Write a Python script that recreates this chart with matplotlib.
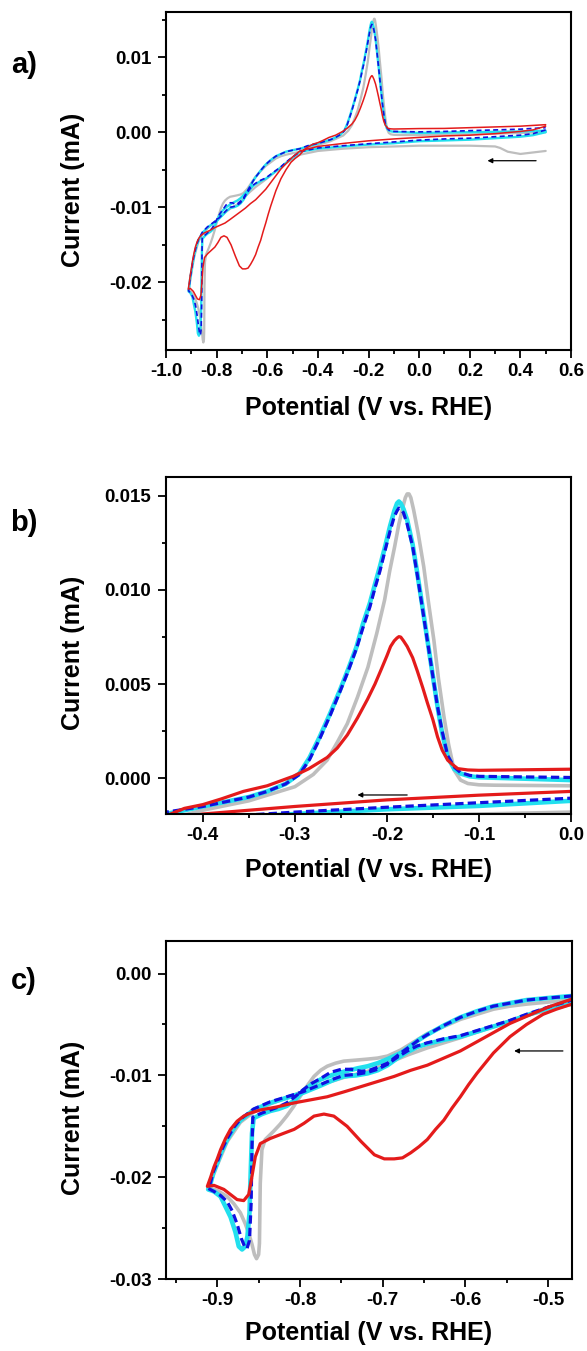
import matplotlib
matplotlib.use("Agg")
import matplotlib.pyplot as plt
from matplotlib.ticker import MultipleLocator, FormatStrFormatter

plt.rcParams['font.family'] = ['Liberation Sans', 'DejaVu Sans']
plt.rcParams['font.weight'] = 'bold'
plt.rcParams['axes.unicode_minus'] = False

# ---- data (potential V vs RHE, current mA) ----
# red curve
red_cath_v = [0.5, 0.45, 0.4, 0.3, 0.2, 0.1, 0.0, -0.1, -0.2, -0.3, -0.4, -0.471, -0.5, -0.526,
              -0.546, -0.566, -0.586, -0.606, -0.626, -0.646, -0.666, -0.686, -0.706, -0.726,
              -0.746, -0.767, -0.787, -0.807, -0.828, -0.848, -0.86, -0.868, -0.876, -0.884,
              -0.89, -0.896, -0.9, -0.904, -0.908, -0.912]
red_cath_i = [0.0008, 0.0003, 0.0001, -0.0002, -0.0004, -0.0005, -0.0007, -0.0009, -0.00115,
              -0.0015, -0.0019, -0.0025, -0.0033, -0.0042, -0.0049, -0.0058, -0.0067, -0.0076,
              -0.0083, -0.0090, -0.0095, -0.0101, -0.0106, -0.0111, -0.0116, -0.0121, -0.0124,
              -0.0127, -0.0131, -0.0134, -0.0137, -0.0140, -0.0145, -0.0153, -0.0162, -0.0173,
              -0.0182, -0.0190, -0.0200, -0.0209]
red_anod_v = [-0.912, -0.904, -0.892, -0.884, -0.876, -0.868, -0.862, -0.858, -0.854, -0.848,
              -0.836, -0.82, -0.807, -0.795, -0.783, -0.771, -0.759, -0.743, -0.726, -0.71,
              -0.698, -0.686, -0.676, -0.666, -0.656, -0.646, -0.636, -0.626, -0.616, -0.606,
              -0.596, -0.586, -0.576, -0.566, -0.556, -0.546, -0.536, -0.526, -0.516, -0.506,
              -0.49, -0.471, -0.45, -0.42, -0.4, -0.38, -0.356, -0.33, -0.302, -0.285, -0.265,
              -0.254, -0.243, -0.232, -0.221, -0.213, -0.206, -0.2, -0.196, -0.192, -0.189,
              -0.187, -0.185, -0.182, -0.178, -0.172, -0.167, -0.161, -0.156, -0.15, -0.145,
              -0.14, -0.134, -0.128, -0.123, -0.112, -0.1, 0.0, 0.1, 0.2, 0.3, 0.4, 0.45, 0.5]
red_anod_i = [-0.0209, -0.0208, -0.0212, -0.0217, -0.0222, -0.0223, -0.0217, -0.0199, -0.0180,
              -0.0167, -0.0162, -0.0157, -0.0153, -0.0147, -0.0140, -0.0138, -0.0140, -0.0150,
              -0.0165, -0.0178, -0.0182, -0.0182, -0.0181, -0.0176, -0.0170, -0.0163, -0.0153,
              -0.0144, -0.0132, -0.0121, -0.0109, -0.0098, -0.0088, -0.0078, -0.0070, -0.0062,
              -0.0056, -0.0050, -0.0045, -0.0040, -0.0035, -0.0030, -0.0022, -0.0016, -0.0014,
              -0.0011, -0.0007, -0.0004, 0.0001, 0.0005, 0.0011, 0.0016, 0.0023, 0.0032,
              0.0042, 0.0050, 0.0058, 0.0065, 0.0070, 0.0073, 0.00745, 0.00752, 0.0075, 0.0073,
              0.0070, 0.0064, 0.0057, 0.0048, 0.0040, 0.0031, 0.0022, 0.0015, 0.00096, 0.0007,
              0.00051, 0.00044, 0.00042, 0.00048, 0.0005, 0.0006, 0.0007, 0.0008, 0.0009, 0.001]

# cyan curve
cyan_cath_v = [0.5, 0.45, 0.4, 0.3, 0.2, 0.1, 0.0, -0.1, -0.2, -0.3, -0.4, -0.471, -0.5, -0.526,
               -0.546, -0.566, -0.586, -0.606, -0.626, -0.646, -0.658, -0.67, -0.682, -0.694,
               -0.706, -0.718, -0.732, -0.747, -0.761, -0.775, -0.796, -0.816, -0.836, -0.856,
               -0.872, -0.88, -0.888, -0.895, -0.9, -0.905, -0.908, -0.911]
cyan_cath_i = [0.0, -0.0004, -0.0006, -0.0008, -0.001, -0.0011, -0.0012, -0.00147, -0.00165,
               -0.0019, -0.0022, -0.0026, -0.0034, -0.0041, -0.0047, -0.0052, -0.0057, -0.0062,
               -0.0065, -0.0069, -0.0072, -0.0077, -0.0083, -0.0090, -0.0095, -0.0098, -0.0100,
               -0.0101, -0.0105, -0.0110, -0.0117, -0.0122, -0.0127, -0.0134, -0.0144, -0.0152,
               -0.0163, -0.0175, -0.0186, -0.0196, -0.0206, -0.0212]
cyan_anod_v = [-0.911, -0.904, -0.896, -0.89, -0.884, -0.878, -0.874, -0.87, -0.866, -0.8635,
               -0.861, -0.86, -0.858, -0.856, -0.846, -0.836, -0.826, -0.816, -0.806, -0.796,
               -0.786, -0.775, -0.759, -0.745, -0.73, -0.718, -0.706, -0.694, -0.686, -0.678,
               -0.666, -0.656, -0.646, -0.626, -0.606, -0.586, -0.566, -0.546, -0.526, -0.5,
               -0.471, -0.44, -0.4, -0.37, -0.35, -0.33, -0.31, -0.295, -0.284, -0.273, -0.262,
               -0.251, -0.242, -0.233, -0.226, -0.2185, -0.213, -0.2076, -0.202, -0.1967,
               -0.192, -0.189, -0.187, -0.185, -0.182, -0.178, -0.172, -0.167, -0.162, -0.156,
               -0.15, -0.145, -0.14, -0.134, -0.127, -0.12, -0.11, -0.1, 0.0, 0.1, 0.2, 0.3,
               0.4, 0.45, 0.5]
cyan_anod_i = [-0.0212, -0.0214, -0.0219, -0.0229, -0.0239, -0.0254, -0.0268, -0.0271, -0.0268,
               -0.0258, -0.0235, -0.0206, -0.0157, -0.0142, -0.0138, -0.0135, -0.0133, -0.0130,
               -0.0124, -0.0115, -0.0109, -0.0104, -0.0099, -0.0096, -0.0093, -0.0091, -0.0088,
               -0.0084, -0.0081, -0.0078, -0.0071, -0.0065, -0.0060, -0.0051, -0.0043, -0.0037,
               -0.0032, -0.0029, -0.0026, -0.0024, -0.0022, -0.0019, -0.0015, -0.0012, -0.0010,
               -0.0007, -0.0003, 0.00025, 0.0011, 0.0022, 0.0034, 0.00468, 0.0058, 0.00698,
               0.0082, 0.0093, 0.0103, 0.01124, 0.0123, 0.01337, 0.0142, 0.0146, 0.0147, 0.0146,
               0.0143, 0.01372, 0.0124, 0.01089, 0.0093, 0.00734, 0.0054, 0.0038, 0.0024,
               0.00113, 0.0005, 0.00025, 0.0001, 0.00005, -0.0001, -0.00005, 0.0, 0.00005,
               0.0001, 0.00015, 0.0002]

# blue dashed curve
blue_cath_v = [0.5, 0.45, 0.4, 0.3, 0.2, 0.1, 0.0, -0.1, -0.2, -0.3, -0.4, -0.471, -0.5, -0.526,
               -0.546, -0.566, -0.586, -0.606, -0.626, -0.646, -0.658, -0.67, -0.682, -0.694,
               -0.706, -0.718, -0.732, -0.747, -0.761, -0.775, -0.796, -0.816, -0.836, -0.856,
               -0.872, -0.88, -0.888, -0.895, -0.9, -0.905, -0.908, -0.911]
blue_cath_i = [0.0003, -0.0002, -0.0004, -0.0006, -0.0008, -0.0009, -0.00106, -0.0013, -0.00154,
               -0.0018, -0.0021, -0.0026, -0.0033, -0.0040, -0.0046, -0.0051, -0.0056, -0.0061,
               -0.0064, -0.0068, -0.0071, -0.0076, -0.0082, -0.0089, -0.0094, -0.0097, -0.0099,
               -0.0100, -0.0104, -0.0109, -0.0116, -0.0121, -0.0126, -0.0133, -0.0143, -0.0151,
               -0.0162, -0.0174, -0.0185, -0.0195, -0.0205, -0.0211]
blue_anod_v = [-0.911, -0.904, -0.896, -0.888, -0.882, -0.876, -0.871, -0.867, -0.864, -0.861,
               -0.859, -0.858, -0.857, -0.852, -0.846, -0.836, -0.826, -0.816, -0.806, -0.796,
               -0.786, -0.775, -0.763, -0.75, -0.738, -0.726, -0.716, -0.706, -0.694, -0.686,
               -0.678, -0.666, -0.656, -0.646, -0.626, -0.606, -0.586, -0.566, -0.546, -0.526,
               -0.5, -0.471, -0.44, -0.4, -0.37, -0.35, -0.33, -0.31, -0.295, -0.284, -0.273,
               -0.262, -0.251, -0.242, -0.233, -0.226, -0.2185, -0.213, -0.2076, -0.202,
               -0.1967, -0.192, -0.189, -0.187, -0.185, -0.182, -0.178, -0.172, -0.167, -0.162,
               -0.156, -0.15, -0.145, -0.14, -0.134, -0.127, -0.12, -0.11, -0.1, 0.0, 0.1, 0.2,
               0.3, 0.4, 0.45, 0.5]
blue_anod_i = [-0.0211, -0.0214, -0.0218, -0.0224, -0.0233, -0.0246, -0.0260, -0.0268, -0.0270,
               -0.0262, -0.0225, -0.0170, -0.0141, -0.0139, -0.0137, -0.0134, -0.0131, -0.0127,
               -0.0121, -0.0114, -0.0108, -0.0103, -0.0097, -0.0094, -0.0094, -0.0096, -0.0095,
               -0.0092, -0.0088, -0.0083, -0.0078, -0.0071, -0.0065, -0.0060, -0.0051, -0.0043,
               -0.0037, -0.0032, -0.0029, -0.0026, -0.0024, -0.0022, -0.0018, -0.0015, -0.0012,
               -0.0010, -0.0007, -0.0003, 0.0002, 0.0010, 0.0021, 0.0033, 0.0046, 0.0057,
               0.0069, 0.0080, 0.0091, 0.0101, 0.0110, 0.0121, 0.0131, 0.0139, 0.0142, 0.01435,
               0.0143, 0.0141, 0.0135, 0.0123, 0.0108, 0.0092, 0.0073, 0.0054, 0.0038, 0.0025,
               0.0012, 0.0006, 0.0003, 0.00015, 0.0001, 0.00004, 0.0001, 0.0002, 0.0003, 0.0004,
               0.0005, 0.0006]

# gray curve
gray_cath_v = [0.5, 0.45, 0.4, 0.35, 0.32, 0.3, 0.2, 0.1, 0.0, -0.1, -0.2, -0.3, -0.4, -0.471,
               -0.526, -0.566, -0.606, -0.646, -0.67, -0.694, -0.718, -0.747, -0.775, -0.796,
               -0.816, -0.836, -0.856, -0.872, -0.888, -0.9, -0.908, -0.911]
gray_cath_i = [-0.0025, -0.0027, -0.0029, -0.0026, -0.0021, -0.0019, -0.0018, -0.0018, -0.0018,
               -0.0019, -0.0020, -0.0022, -0.0025, -0.0030, -0.0041, -0.0052, -0.0063, -0.0073,
               -0.0080, -0.0088, -0.0096, -0.0102, -0.0109, -0.0116, -0.0122, -0.0128, -0.0136,
               -0.0146, -0.0165, -0.0188, -0.0205, -0.0210]
gray_anod_v = [-0.911, -0.9, -0.888, -0.88, -0.872, -0.866, -0.862, -0.858, -0.855, -0.8525,
               -0.85, -0.849, -0.848, -0.846, -0.842, -0.832, -0.824, -0.816, -0.808, -0.8,
               -0.792, -0.783, -0.775, -0.767, -0.757, -0.747, -0.732, -0.718, -0.706, -0.694,
               -0.686, -0.678, -0.666, -0.656, -0.646, -0.626, -0.606, -0.586, -0.566, -0.546,
               -0.526, -0.5, -0.471, -0.44, -0.4, -0.37, -0.35, -0.33, -0.3, -0.28, -0.265,
               -0.254, -0.243, -0.232, -0.2206, -0.211, -0.2025, -0.197, -0.1916, -0.187,
               -0.1825, -0.18, -0.178, -0.176, -0.174, -0.171, -0.166, -0.16, -0.155, -0.149,
               -0.144, -0.138, -0.133, -0.127, -0.12, -0.112, -0.1, -0.083, 0.0, 0.1, 0.2, 0.3,
               0.4, 0.5]
gray_anod_i = [-0.0210, -0.0213, -0.0219, -0.0226, -0.0235, -0.0246, -0.0255, -0.0266, -0.0276,
               -0.0280, -0.0276, -0.0265, -0.0206, -0.0173, -0.0163, -0.0155, -0.0148, -0.0140,
               -0.0131, -0.0121, -0.0111, -0.0101, -0.0095, -0.0091, -0.0088, -0.0086, -0.0085,
               -0.0084, -0.0083, -0.0081, -0.0078, -0.0075, -0.0069, -0.0064, -0.0059, -0.0052,
               -0.0045, -0.0040, -0.0035, -0.0032, -0.0030, -0.0028, -0.0026, -0.0022, -0.0017,
               -0.0014, -0.0012, -0.0009, -0.00045, 0.0002, 0.00096, 0.0019, 0.0029, 0.0043,
               0.0059, 0.0077, 0.00947, 0.0110, 0.0123, 0.0135, 0.01443, 0.0149, 0.0151, 0.0151,
               0.0149, 0.01426, 0.0130, 0.01124, 0.0094, 0.00734, 0.0053, 0.00326, 0.0018,
               0.00043, -0.0001, -0.00028, -0.00035, -0.00037, -0.0004, -0.0003, -0.0003,
               -0.0002, -0.0001, 0.0]

panel_labels = ['a)', 'b)', 'c)']
xlims = [(-1.0, 0.6), (-0.44, 0.0), (-0.962, -0.471)]
ylims = [(-0.029, 0.016), (-0.0019, 0.016), (-0.030, 0.0032)]

# ---- figure ----
W, H = 587, 1351
fig = plt.figure(figsize=(W / 100, H / 100), dpi=100)

# axes boxes in pixels: left, top, right, bottom
boxes = [(166, 12, 571, 350), (166, 477, 571, 814), (166, 941, 572, 1279)]
letter_y = [65, 523, 981]
xlabel_y = [-0.172, -0.166, -0.160]
ylabel_y = [0.473, 0.478, 0.476]

c_gray, c_cyan, c_blue, c_red = '#bebebe', '#22e0ee', '#1010e0', '#e41b1b'

axes = []
for k, (l, t, r, b) in enumerate(boxes):
    ax = fig.add_axes([l / W, 1 - b / H, (r - l) / W, (b - t) / H])
    axes.append(ax)
    thin = (k == 0)
    lw_g, lw_c, lw_b, lw_r = (1.6, 1.7, 1.2, 1.1) if thin else (2.6, 3.3, 2.3, 2.3)
    dash = (3, 2) if thin else (2.6, 1.3)
    for v1, i1, v2, i2, col, lw, ls in [
        (gray_cath_v, gray_cath_i, gray_anod_v, gray_anod_i, c_gray, lw_g, '-'),
        (cyan_cath_v, cyan_cath_i, cyan_anod_v, cyan_anod_i, c_cyan, lw_c, '-'),
        (blue_cath_v, blue_cath_i, blue_anod_v, blue_anod_i, c_blue, lw_b, '--'),
        (red_cath_v, red_cath_i, red_anod_v, red_anod_i, c_red, lw_r, '-'),
    ]:
        line, = ax.plot(list(v1) + list(v2), list(i1) + list(i2), color=col, lw=lw,
                        ls=ls, solid_joinstyle='round', solid_capstyle='round')
        if ls == '--':
            line.set_dashes(dash)

    ax.set_xlim(*xlims[k])
    ax.set_ylim(*ylims[k])
    for s in ['top', 'right', 'bottom', 'left']:
        ax.spines[s].set_linewidth(1.5)
    ax.tick_params(which='both', direction='out', top=False, right=False, width=1.3)
    ax.tick_params(which='major', length=5.5, labelsize=13.5, pad=4)
    ax.tick_params(which='minor', length=3)
    ax.tick_params(axis='y', which='major', pad=5)

    ax.set_xlabel('Potential (V vs. RHE)', fontsize=18, fontweight='bold')
    ax.set_ylabel('Current (mA)', fontsize=18, fontweight='bold')
    ax.xaxis.set_label_coords(0.5, xlabel_y[k])
    ax.xaxis.label.set_va('center')
    ax.yaxis.set_label_coords((73 - l) / (r - l), ylabel_y[k])
    ax.yaxis.label.set_va('center')

    fig.text(24 / W, 1 - letter_y[k] / H, panel_labels[k], fontsize=21, fontweight='bold',
             ha='center', va='center')

# panel a
axes[0].xaxis.set_major_locator(MultipleLocator(0.2))
axes[0].xaxis.set_minor_locator(MultipleLocator(0.1))
axes[0].xaxis.set_major_formatter(FormatStrFormatter('%.1f'))
axes[0].yaxis.set_major_locator(MultipleLocator(0.01))
axes[0].yaxis.set_minor_locator(MultipleLocator(0.005))
axes[0].yaxis.set_major_formatter(FormatStrFormatter('%.2f'))
# panel b
axes[1].xaxis.set_major_locator(MultipleLocator(0.1))
axes[1].xaxis.set_minor_locator(MultipleLocator(0.05))
axes[1].xaxis.set_major_formatter(FormatStrFormatter('%.1f'))
axes[1].yaxis.set_major_locator(MultipleLocator(0.005))
axes[1].yaxis.set_minor_locator(MultipleLocator(0.0025))
axes[1].yaxis.set_major_formatter(FormatStrFormatter('%.3f'))
# panel c
axes[2].xaxis.set_major_locator(MultipleLocator(0.1))
axes[2].xaxis.set_minor_locator(MultipleLocator(0.05))
axes[2].xaxis.set_major_formatter(FormatStrFormatter('%.1f'))
axes[2].yaxis.set_major_locator(MultipleLocator(0.01))
axes[2].yaxis.set_minor_locator(MultipleLocator(0.005))
axes[2].yaxis.set_major_formatter(FormatStrFormatter('%.2f'))

# scan direction arrows
arrows = [((0.462, -0.0038), (0.27, -0.0038)),
          ((-0.178, -0.00089), (-0.232, -0.00089)),
          ((-0.482, -0.0076), (-0.541, -0.0076))]
for ax, (p0, p1) in zip(axes, arrows):
    ax.annotate('', xy=p1, xytext=p0,
                arrowprops=dict(arrowstyle='-|>', color='black', lw=0.9,
                                mutation_scale=7, shrinkA=0, shrinkB=0))

fig.savefig('out.png', dpi=100)
